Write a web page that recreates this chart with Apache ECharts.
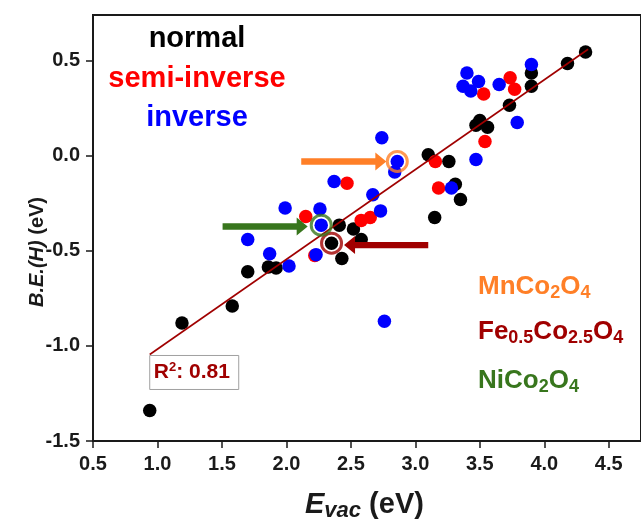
<!DOCTYPE html>
<html>
<head>
<meta charset="utf-8">
<script src="https://cdn.jsdelivr.net/npm/echarts@6/dist/echarts.min.js"></script>
<style>
  html, body { margin: 0; padding: 0; background: #ffffff; }
  #chart { width: 641px; height: 524px; }
</style>
</head>
<body>
<div id="chart"></div>
<script>
// Hydrogen binding energy vs. oxygen-vacancy formation energy for spinel oxides

const FONT = '"Liberation Sans", Arial, Helvetica, sans-serif';

// Axis ticks
const xTicks = [0.5, 1.0, 1.5, 2.0, 2.5, 3.0, 3.5, 4.0, 4.5];
const yTicks = [-1.5, -1.0, -0.5, 0.0, 0.5];

// normal spinels
const normalEvac = [0.94, 1.19, 1.58, 1.70, 1.86, 1.92, 2.35, 2.41, 2.52, 2.58, 2.43, 3.10, 3.26, 3.31, 3.35, 3.15, 3.47, 3.50, 3.56, 3.73, 3.90, 3.90, 4.18, 4.32];
const normalBE   = [-1.34, -0.88, -0.79, -0.61, -0.585, -0.59, -0.46, -0.365, -0.385, -0.44, -0.54, 0.005, -0.03, -0.15, -0.23, -0.325, 0.16, 0.185, 0.15, 0.265, 0.365, 0.435, 0.485, 0.545];

// semi-inverse spinels
const semiEvac = [2.15, 2.22, 2.47, 2.58, 2.65, 3.155, 3.18, 3.54, 3.53, 3.735, 3.77];
const semiBE   = [-0.32, -0.525, -0.145, -0.34, -0.325, -0.03, -0.17, 0.075, 0.325, 0.41, 0.35];

// inverse spinels
const inverseEvac = [1.70, 1.87, 2.02, 1.99, 2.26, 2.27, 2.23, 2.37, 2.67, 2.73, 2.74, 2.86, 2.84, 2.76, 3.28, 3.47, 3.40, 3.37, 3.43, 3.49, 3.65, 3.79, 3.90];
const inverseBE   = [-0.44, -0.515, -0.58, -0.275, -0.28, -0.365, -0.52, -0.135, -0.205, -0.29, 0.095, -0.03, -0.085, -0.87, -0.17, -0.02, 0.435, 0.365, 0.34, 0.39, 0.375, 0.175, 0.48];

// linear fit end points and its R²
const fitEvac = [0.94, 4.34];
const fitBE   = [-1.045, 0.56];
const rSquared = '0.81';

// highlighted compounds: which point, and the arrow pointing at it (tail x, tip x, y)
const highlightNames  = ['MnCo2O4', 'Fe0.5Co2.5O4', 'NiCo2O4'];
const highlightGroup  = ['inverse', 'normal', 'inverse'];
const highlightIndex  = [11, 6, 5];
const arrowTailX      = [2.115, 3.10, 1.505];
const arrowTipX       = [2.775, 2.447, 2.165];
const arrowY          = [-0.03, -0.47, -0.372];

const groupNames = ['normal', 'semi-inverse', 'inverse'];
const groupColors = ['#000000', '#ff0000', '#0000ff'];
const highlightColors = ['#ff7f27', '#a00000', '#38761d'];

const groups = {
  'normal': { x: normalEvac, y: normalBE },
  'semi-inverse': { x: semiEvac, y: semiBE },
  'inverse': { x: inverseEvac, y: inverseBE }
};

function pairs(xs, ys) { return xs.map((x, i) => [x, ys[i]]); }

const chart = echarts.init(document.getElementById('chart'), null, { renderer: 'canvas' });

const axisText = { fontFamily: FONT, fontWeight: 'bold', fontSize: 20, color: '#1a1a1a' };

const ringData = highlightNames.map((n, k) => {
  const g = groups[highlightGroup[k]];
  const i = highlightIndex[k];
  return { name: n, value: [g.x[i], g.y[i]], itemStyle: { borderColor: highlightColors[k] } };
});

chart.setOption({
  animation: false,
  backgroundColor: '#ffffff',
  grid: {
    left: 93, top: 15, width: 550, height: 426,
    show: true, borderColor: '#1a1a1a', borderWidth: 2, backgroundColor: 'transparent'
  },
  xAxis: {
    type: 'value', min: 0.5, max: 4.75,
    axisLine: { show: true, onZero: false, lineStyle: { color: '#1a1a1a', width: 2 } },
    axisTick: { show: true, inside: false, length: 7, customValues: xTicks, lineStyle: { color: '#1a1a1a', width: 1.5 } },
    axisLabel: Object.assign({ margin: 13, customValues: xTicks, formatter: v => v.toFixed(1) }, axisText),
    splitLine: { show: false }
  },
  yAxis: {
    type: 'value', min: -1.5, max: 0.74,
    axisLine: { show: true, onZero: false, lineStyle: { color: '#1a1a1a', width: 2 } },
    axisTick: { show: true, inside: false, length: 7, customValues: yTicks, lineStyle: { color: '#1a1a1a', width: 1.5 } },
    axisLabel: Object.assign({ margin: 13, customValues: yTicks, formatter: v => v.toFixed(1) }, axisText),
    splitLine: { show: false }
  },
  series: [
    ...groupNames.map((name, k) => ({
      type: 'scatter', name: name,
      data: pairs(groups[name].x, groups[name].y),
      symbol: 'circle', symbolSize: 13.5,
      itemStyle: { color: groupColors[k], opacity: 1 },
      emphasis: { disabled: true }, silent: true,
      z: 2 + k
    })),
    {
      type: 'line', name: 'fit',
      data: pairs(fitEvac, fitBE),
      showSymbol: false, symbol: 'none',
      lineStyle: { color: '#a00000', width: 1.6 },
      silent: true, z: 6
    },
    {
      type: 'scatter', name: 'highlight',
      data: ringData,
      symbol: 'circle', symbolSize: 20,
      itemStyle: { color: 'rgba(0,0,0,0)', borderWidth: 3 },
      emphasis: { disabled: true }, silent: true,
      z: 7
    }
  ]
});

// annotation layer positioned from data coordinates
const toPx = (x, y) => chart.convertToPixel({ gridIndex: 0 }, [x, y]);

function arrowShape(k) {
  const t = toPx(arrowTailX[k], arrowY[k]);
  const h = toPx(arrowTipX[k], arrowY[k]);
  const y = h[1];
  const dir = h[0] > t[0] ? 1 : -1;
  const headLen = 11, shaft = 3.2, head = 9;
  const b = h[0] - dir * headLen;
  return {
    type: 'polygon', silent: true, z: 100,
    shape: { points: [[t[0], y - shaft], [b, y - shaft], [b, y - head], [h[0], y], [b, y + head], [b, y + shaft], [t[0], y + shaft]] },
    style: { fill: highlightColors[k] }
  };
}

function formula(k, x, y) {
  const c = highlightColors[k];
  const main = { fontSize: 26, fontWeight: 'bold', fontFamily: FONT, fill: c, lineHeight: 30 };
  const sub = { fontSize: 18, fontWeight: 'bold', fontFamily: FONT, fill: c, lineHeight: 11, verticalAlign: 'bottom' };
  const parts = {
    0: '{m|MnCo}{s|2}{m|O}{s|4}',
    1: '{m|Fe}{s|0.5}{m|Co}{s|2.5}{m|O}{s|4}',
    2: '{m|NiCo}{s|2}{m|O}{s|4}'
  };
  return {
    type: 'text', silent: true, z: 100, x: x, y: y,
    style: { text: parts[k], align: 'left', verticalAlign: 'middle', rich: { m: main, s: sub } }
  };
}

const fit0 = toPx(fitEvac[0], fitBE[0]);

const graphics = [
  // class legend
  { type: 'text', x: 197, y: 39, silent: true, style: { text: groupNames[0], fill: groupColors[0], font: 'bold 29px ' + FONT, align: 'center', verticalAlign: 'middle' } },
  { type: 'text', x: 197, y: 79, silent: true, style: { text: groupNames[1], fill: groupColors[1], font: 'bold 29px ' + FONT, align: 'center', verticalAlign: 'middle' } },
  { type: 'text', x: 197, y: 118, silent: true, style: { text: groupNames[2], fill: groupColors[2], font: 'bold 29px ' + FONT, align: 'center', verticalAlign: 'middle' } },
  // arrows
  arrowShape(0), arrowShape(1), arrowShape(2),
  // compound labels
  formula(0, 478, 286.7), formula(1, 478, 331.7), formula(2, 478, 381),
  // R² box at the start of the fit line
  { type: 'rect', silent: true, z: 100,
    shape: { x: fit0[0], y: fit0[1] + 1, width: 89, height: 34 },
    style: { fill: '#ffffff', stroke: '#a0a0a0', lineWidth: 1 } },
  { type: 'text', silent: true, z: 101, x: fit0[0] + 4, y: fit0[1] + 18,
    style: {
      text: '{m|R}{p|2}{m|: ' + rSquared + '}', align: 'left', verticalAlign: 'middle',
      rich: {
        m: { fontSize: 21, fontWeight: 'bold', fontFamily: FONT, fill: '#a00000', lineHeight: 24 },
        p: { fontSize: 13, fontWeight: 'bold', fontFamily: FONT, fill: '#a00000', lineHeight: 14, verticalAlign: 'top' }
      }
    } },
  // axis titles
  { type: 'text', silent: true, x: 305, y: 505,
    style: {
      text: '{e|E}{v|vac}{u| (eV)}', align: 'left', verticalAlign: 'middle',
      rich: {
        e: { fontSize: 29, fontWeight: 'bold', fontStyle: 'italic', fontFamily: FONT, fill: '#1a1a1a', lineHeight: 34 },
        v: { fontSize: 22, fontWeight: 'bold', fontStyle: 'italic', fontFamily: FONT, fill: '#1a1a1a', lineHeight: 16, verticalAlign: 'bottom' },
        u: { fontSize: 29, fontWeight: 'bold', fontFamily: FONT, fill: '#1a1a1a', lineHeight: 34 }
      }
    } },
  { type: 'text', silent: true, x: 37, y: 252, rotation: Math.PI / 2,
    style: {
      text: '{i|B.E.(H)}{u| (eV)}', align: 'center', verticalAlign: 'middle',
      rich: {
        i: { fontSize: 20, fontWeight: 'bold', fontStyle: 'italic', fontFamily: FONT, fill: '#1a1a1a' },
        u: { fontSize: 20, fontWeight: 'bold', fontFamily: FONT, fill: '#1a1a1a' }
      }
    } }
];

chart.setOption({ graphic: graphics });
</script>
</body>
</html>
